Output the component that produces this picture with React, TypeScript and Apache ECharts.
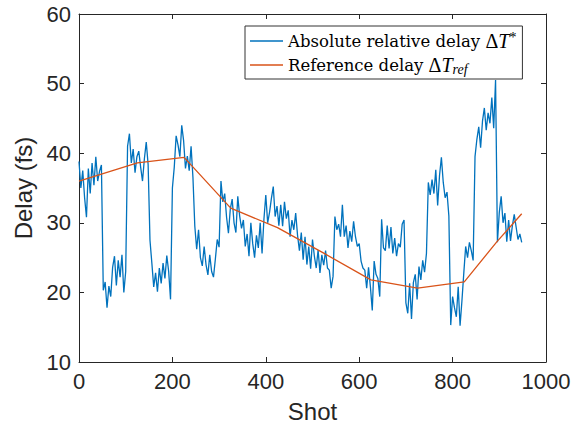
import React, { useEffect, useRef } from "react";
import * as echarts from "echarts";

// Shot step of the sampled absolute relative delay (one value every SHOT_STEP shots, starting at shot 0)
const SHOT_STEP = 4;
const absoluteDelay = [
  38.8, 35.0, 37.5, 33.6, 30.8, 37.8, 34.2, 38.6, 35.4, 39.5,
  36.0, 37.4, 38.3, 20.3, 21.5, 17.8, 20.9, 19.4, 23.6, 25.2,
  21.0, 24.6, 22.2, 25.4, 20.0, 23.0, 41.0, 42.8, 38.6, 40.6,
  37.2, 39.5, 40.3, 38.0, 36.0, 39.2, 41.6, 38.4, 27.5, 24.2,
  20.8, 22.8, 20.1, 23.5, 21.3, 24.2, 22.0, 25.3, 23.0, 19.0,
  35.0, 38.0, 42.5, 41.2, 39.5, 44.0, 41.8, 37.8, 39.6, 37.5,
  41.0, 36.5, 29.5, 26.2, 29.0, 25.0, 23.8, 26.6, 24.0, 22.5,
  25.4, 23.0, 22.2, 24.8, 27.6, 26.5, 36.0, 33.0, 34.2, 30.8,
  28.5, 32.0, 33.4, 30.0, 28.6, 33.8, 31.0, 29.2, 30.4, 26.6,
  28.4, 25.2, 30.0, 27.0, 25.0, 28.2, 26.4, 30.0, 25.6, 30.5,
  34.0, 30.0, 31.5, 33.5, 35.2, 30.9, 32.4, 29.6, 32.6, 29.5,
  33.0, 30.6, 31.8, 28.0, 30.4, 29.0, 31.4, 28.2, 26.0, 28.6,
  24.7, 28.0, 24.0, 26.6, 23.4, 27.6, 25.2, 23.5, 26.1, 22.8,
  25.4, 23.9, 26.0, 23.5, 23.2, 20.6, 22.3, 30.9, 29.0, 29.8,
  28.0, 32.6, 28.0, 29.6, 26.4, 28.8, 27.3, 30.2, 28.0, 26.6,
  27.0, 24.5, 23.5, 23.2, 20.6, 23.6, 20.8, 17.4, 24.5, 22.6,
  22.0, 19.4, 30.5, 26.4, 26.0, 29.6, 26.3, 29.4, 25.6, 27.8,
  25.2, 27.0, 26.5, 29.8, 30.4, 18.5, 17.0, 21.3, 16.2, 21.4,
  22.6, 19.0, 23.7, 21.8, 24.6, 22.9, 25.6, 35.8, 34.0, 36.2,
  34.2, 37.6, 32.5, 36.8, 39.4, 35.8, 33.6, 34.4, 31.0, 15.3,
  19.4, 17.8, 16.5, 20.8, 15.2, 18.8, 22.8, 26.6, 25.0, 27.2,
  26.0, 24.6, 39.5, 42.0, 43.8, 40.8, 44.6, 46.5, 43.3, 45.8,
  44.3, 48.0, 43.6, 50.5, 27.2, 31.5, 33.8, 30.0, 31.4, 27.3,
  30.4, 27.4, 29.6, 31.2, 29.4, 27.6, 28.4, 27.2,
];

const referenceShots = [0, 125, 225, 325, 425, 525, 625, 725, 825, 895, 948];
const referenceDelay = [36.0, 38.6, 39.4, 32.1, 29.3, 25.6, 21.8, 20.6, 21.5, 27.3, 31.3];

const xTicks = { min: 0, max: 1000, interval: 200 };
const yTicks = { min: 10, max: 60, interval: 10 };

const seriesNames = ["Absolute relative delay", "Reference delay"];

export default function App() {
  const ref = useRef<HTMLDivElement>(null);

  useEffect(() => {
    if (!ref.current) return;
    const chart = echarts.init(ref.current, null, { renderer: "svg" });
    const axisColor = "#262626";
    const tickFont = {
      fontFamily: "Liberation Sans",
      fontSize: 22,
      color: axisColor,
      formatter: (v: number) => String(v),
    };
    const blueData = absoluteDelay.map((v, i) => [i * SHOT_STEP, v]);
    const redData = referenceShots.map((s, i) => [s, referenceDelay[i]]);
    const baseAxis = {
      type: "value" as const,
      splitLine: { show: false },
      axisLine: { show: true, onZero: false, lineStyle: { color: axisColor, width: 1 } },
      axisTick: { show: true, inside: true, length: 5, lineStyle: { color: axisColor, width: 1 } },
    };
    const serif = "DejaVu Serif";
    const mathSerif = "Liberation Serif";
    chart.setOption({
      animation: false,
      backgroundColor: "#ffffff",
      grid: { left: 79, top: 14, right: 39, bottom: 68, containLabel: false },
      xAxis: [
        {
          ...baseAxis,
          ...xTicks,
          position: "bottom",
          axisLabel: { ...tickFont, margin: 8 },
          name: "Shot",
          nameLocation: "middle",
          nameGap: 37,
          nameTextStyle: { fontFamily: "Liberation Sans", fontSize: 24, color: axisColor },
        },
        {
          ...baseAxis,
          ...xTicks,
          position: "top",
          axisLabel: { show: false },
        },
      ],
      yAxis: [
        {
          ...baseAxis,
          ...yTicks,
          position: "left",
          axisLabel: { ...tickFont, margin: 8 },
          name: "Delay (fs)",
          nameLocation: "middle",
          nameGap: 40,
          nameRotate: 90,
          nameTextStyle: { fontFamily: "Liberation Sans", fontSize: 24, color: axisColor },
        },
        {
          ...baseAxis,
          ...yTicks,
          position: "right",
          axisLabel: { show: false },
        },
      ],
      legend: {
        orient: "vertical",
        left: 245,
        top: 26,
        padding: [4, 6, 3, 5],
        itemGap: 4,
        icon: "rect",
        itemWidth: 33,
        itemHeight: 1.5,
        borderColor: "#333333",
        borderWidth: 1,
        borderRadius: 0,
        backgroundColor: "#ffffff",
        data: seriesNames,
        formatter: (name: string) =>
          name === seriesNames[0]
            ? "{t|Absolute relative delay }{d|Δ}{m|T}{sup|*}"
            : "{t|Reference delay }{d|Δ}{m|T}{sub|ref}",
        textStyle: {
          color: "#000000",
          rich: {
            t: { fontFamily: serif, fontSize: 16.5, lineHeight: 22, color: "#000" },
            d: { fontFamily: mathSerif, fontSize: 20, lineHeight: 22, color: "#000" },
            m: { fontFamily: mathSerif, fontSize: 20, fontStyle: "italic", lineHeight: 22, color: "#000" },
            sup: { fontFamily: mathSerif, fontSize: 14, verticalAlign: "top", lineHeight: 12, color: "#000" },
            sub: { fontFamily: mathSerif, fontSize: 14, fontStyle: "italic", verticalAlign: "bottom", lineHeight: 12, color: "#000" },
          },
        },
      },
      series: [
        {
          name: seriesNames[0],
          type: "line",
          data: blueData,
          symbol: "none",
          showSymbol: false,
          lineStyle: { color: "#0072BD", width: 1.3 },
          itemStyle: { color: "#0072BD" },
          z: 2,
        },
        {
          name: seriesNames[1],
          type: "line",
          data: redData,
          symbol: "none",
          showSymbol: false,
          lineStyle: { color: "#D95319", width: 1.3 },
          itemStyle: { color: "#D95319" },
          z: 3,
        },
      ],
    });
    return () => chart.dispose();
  }, []);

  return (
    <div
      ref={ref}
      style={{ position: "fixed", left: 0, top: 0, width: 585, height: 430, background: "#fff" }}
    />
  );
}
